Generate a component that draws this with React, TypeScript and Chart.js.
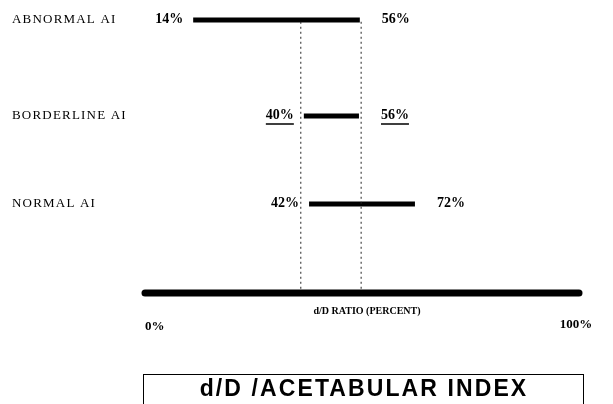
import React, { useEffect, useRef } from "react";
import { Chart, registerables } from "chart.js";

Chart.register(...registerables);

// Categories (top to bottom) and their vertical levels
const categories = ["ABNORMAL AI", "BORDERLINE AI", "NORMAL AI"];
const rowLevels = [3.07, 1.99, 1.0];
// Drawn extents of each range, in axis units (0–100), as they appear in the figure
const rangeStart = [11.1, 36.6, 37.8];
const rangeEnd = [49.5, 49.3, 62.2];
// Printed value labels
const startLabels = ["14%", "40%", "42%"];
const endLabels = ["56%", "56%", "72%"];
const underlined = [false, true, false];
// Dotted reference lines (axis units)
const referenceX = [35.9, 49.8];
// Axis
const axisMin = 0;
const axisMax = 100;
const axisTickLabels = ["0%", "100%"];
const axisTitle = "d/D RATIO (PERCENT)";
const chartTitle = "d/D /ACETABULAR INDEX";

const SERIF = '"Liberation Serif", "Times New Roman", serif';
const SANS = '"Liberation Sans", Arial, sans-serif';

const labelsPlugin = {
  id: "labelsPlugin",
  afterDraw(chart: any) {
    const ctx = chart.ctx as CanvasRenderingContext2D;
    const xs = chart.scales.x;
    const ys = chart.scales.y;
    ctx.save();
    ctx.fillStyle = "#000";
    ctx.strokeStyle = "#000";
    ctx.textBaseline = "middle";

    // category labels
    ctx.font = `13px ${SERIF}`;
    (ctx as any).letterSpacing = "1.2px";
    ctx.textAlign = "left";
    categories.forEach((c, i) => {
      const y = ys.getPixelForValue(rowLevels[i]);
      ctx.fillText(c, 12, y);
    });
    (ctx as any).letterSpacing = "0px";

    // value labels
    ctx.font = `bold 14px ${SERIF}`;
    categories.forEach((_, i) => {
      const y = ys.getPixelForValue(rowLevels[i]);
      const x0 = xs.getPixelForValue(rangeStart[i]) - 10;
      const x1 = xs.getPixelForValue(rangeEnd[i]) + 22;
      ctx.textAlign = "right";
      ctx.fillText(startLabels[i], x0, y - 1);
      ctx.textAlign = "left";
      ctx.fillText(endLabels[i], x1, y - 1);
      if (underlined[i]) {
        const w0 = ctx.measureText(startLabels[i]).width;
        const w1 = ctx.measureText(endLabels[i]).width;
        ctx.lineWidth = 1.5;
        ctx.beginPath();
        ctx.moveTo(x0 - w0, y + 8);
        ctx.lineTo(x0, y + 8);
        ctx.moveTo(x1, y + 8);
        ctx.lineTo(x1 + w1, y + 8);
        ctx.stroke();
      }
    });

    // axis tick labels
    const axisY = ys.getPixelForValue(0);
    ctx.font = `bold 13px ${SERIF}`;
    ctx.textAlign = "left";
    ctx.fillText(axisTickLabels[0], xs.getPixelForValue(axisMin), axisY + 34);
    ctx.textAlign = "center";
    ctx.fillText(axisTickLabels[1], xs.getPixelForValue(axisMax) - 3, axisY + 32);

    // axis title
    ctx.font = `bold 10px ${SERIF}`;
    ctx.textAlign = "center";
    ctx.fillText(axisTitle, xs.getPixelForValue((axisMin + axisMax) / 2) + 5, axisY + 18);

    // boxed title
    const bx0 = xs.getPixelForValue(axisMin) - 2;
    const bx1 = xs.getPixelForValue(axisMax) + 4;
    const by0 = axisY + 81;
    ctx.lineWidth = 1;
    ctx.strokeRect(bx0 + 0.5, by0 + 0.5, bx1 - bx0, 60);
    ctx.font = `bold 23px ${SANS}`;
    (ctx as any).letterSpacing = "2.1px";
    ctx.textAlign = "center";
    ctx.fillText(chartTitle, (bx0 + bx1) / 2 + 1, by0 + 16);
    (ctx as any).letterSpacing = "0px";
    ctx.restore();
  },
};

export default function App() {
  const ref = useRef<HTMLCanvasElement | null>(null);
  useEffect(() => {
    if (!ref.current) return;
    const rangeSets = categories.map((c, i) => ({
      label: c,
      data: [
        { x: rangeStart[i], y: rowLevels[i] },
        { x: rangeEnd[i], y: rowLevels[i] },
      ],
      showLine: true,
      borderColor: "#000",
      borderWidth: 5,
      pointRadius: 0,
      borderCapStyle: "butt" as const,
    }));
    const refSets = referenceX.map((x) => ({
      label: "ref",
      data: [
        { x, y: rowLevels[0] - 0.02 },
        { x, y: 0.03 },
      ],
      showLine: true,
      borderColor: "#222",
      borderWidth: 1,
      borderDash: [2, 3],
      pointRadius: 0,
    }));
    const axisSet = {
      label: "axis",
      data: [
        { x: axisMin, y: 0 },
        { x: axisMax, y: 0 },
      ],
      showLine: true,
      borderColor: "#000",
      borderWidth: 7,
      pointRadius: 0,
      borderCapStyle: "round" as const,
    };
    const chart = new Chart(ref.current, {
      type: "scatter",
      data: { datasets: [...refSets, ...rangeSets, axisSet] as any },
      options: {
        animation: false,
        responsive: false,
        clip: false as any,
        layout: { padding: { left: 145, right: 34, top: 20, bottom: 111 } },
        scales: {
          x: { type: "linear", min: axisMin, max: axisMax, display: false },
          y: { type: "linear", min: 0, max: rowLevels[0], display: false },
        },
        plugins: {
          legend: { display: false },
          tooltip: { enabled: false },
          title: { display: false },
        },
      },
      plugins: [labelsPlugin],
    });
    return () => chart.destroy();
  }, []);
  return (
    <div style={{ position: "fixed", left: 0, top: 0, width: 613, height: 404, background: "#fff" }}>
      <canvas ref={ref} width={613} height={404} />
    </div>
  );
}
